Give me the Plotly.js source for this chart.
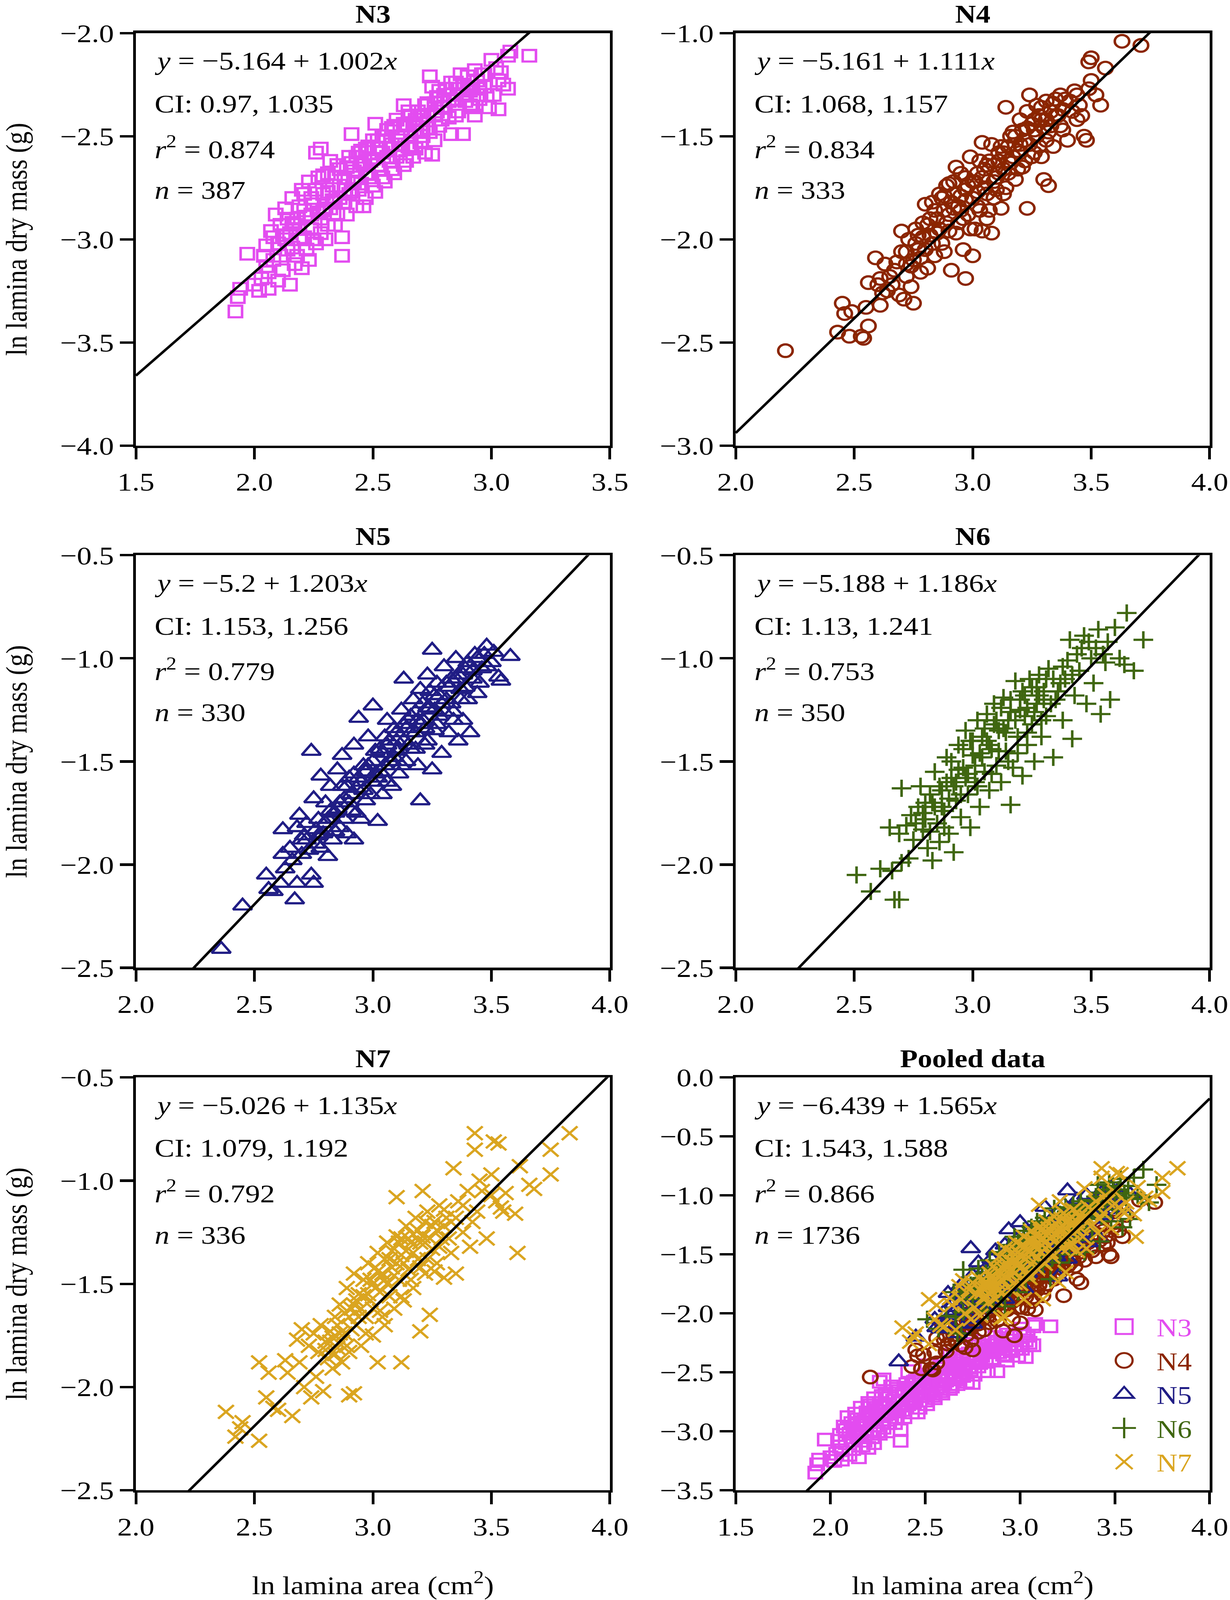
<!DOCTYPE html>
<html><head><meta charset="utf-8">
<script src="https://cdn.plot.ly/plotly-3.0.1.min.js"></script>
<style>html,body{margin:0;padding:0;background:#fff;overflow:hidden;}#wrap{width:3150px;height:4697px;transform-origin:0 0;}#chart{width:3150px;height:4697px;}</style>
</head><body><div id="wrap"><div id="chart"></div></div>
<script>
// ---- data ----
const N3 = [[1.92,-3.35],[1.93,-3.28],[1.94,-3.24],[1.97,-3.07],[2.00,-3.22],[2.02,-3.25],[2.03,-3.19],[2.05,-3.13],[2.05,-3.03],[2.06,-3.24],[2.07,-2.96],[2.08,-3.10],[2.09,-2.88],[2.10,-3.20],[2.10,-3.02],[2.11,-2.93],[2.12,-3.15],[2.13,-2.85],[2.14,-3.05],[2.15,-2.97],[2.15,-3.22],[2.16,-2.80],[2.17,-3.12],[2.18,-2.90],[2.19,-3.00],[2.20,-2.76],[2.20,-3.14],[2.21,-2.86],[2.22,-3.05],[2.23,-2.72],[2.24,-2.95],[2.25,-2.83],[2.26,-2.58],[2.26,-3.02],[2.27,-2.70],[2.28,-2.56],[2.28,-2.90],[2.29,-2.78],[2.30,-3.00],[2.31,-2.68],[2.32,-2.85],[2.33,-2.74],[2.34,-2.93],[2.35,-2.64],[2.36,-2.80],[2.37,-3.08],[2.37,-2.99],[2.38,-2.70],[2.39,-2.88],[2.40,-2.60],[2.41,-2.49],[2.41,-2.77],[2.42,-2.67],[2.43,-2.84],[2.44,-2.58],[2.45,-2.73],[2.46,-2.64],[2.47,-2.80],[2.48,-2.55],[2.49,-2.70],[2.50,-2.61],[2.51,-2.44],[2.51,-2.77],[2.52,-2.52],[2.53,-2.66],[2.54,-2.58],[2.55,-2.72],[2.56,-2.47],[2.57,-2.62],[2.58,-2.54],[2.59,-2.68],[2.60,-2.42],[2.61,-2.57],[2.62,-2.50],[2.63,-2.35],[2.63,-2.64],[2.64,-2.45],[2.65,-2.55],[2.66,-2.40],[2.67,-2.60],[2.68,-2.48],[2.69,-2.38],[2.70,-2.53],[2.71,-2.44],[2.72,-2.58],[2.73,-2.34],[2.74,-2.21],[2.74,-2.48],[2.75,-2.26],[2.75,-2.59],[2.76,-2.40],[2.77,-2.31],[2.78,-2.45],[2.80,-2.36],[2.81,-2.27],[2.82,-2.41],[2.83,-2.49],[2.84,-2.32],[2.85,-2.24],[2.86,-2.38],[2.87,-2.20],[2.88,-2.49],[2.88,-2.30],[2.90,-2.21],[2.91,-2.35],[2.92,-2.27],[2.93,-2.40],[2.94,-2.23],[2.95,-2.32],[2.97,-2.26],[2.99,-2.36],[3.00,-2.13],[3.01,-2.30],[3.03,-2.23],[3.04,-2.19],[3.07,-2.27],[3.08,-2.09],[3.07,-2.11],[3.16,-2.11],
  [2.04,-3.08],[2.06,-3.16],[2.08,-2.99],[2.11,-3.08],[2.12,-2.98],[2.14,-2.90],[2.16,-3.04],[2.17,-2.93],[2.18,-3.08],[2.19,-2.84],[2.21,-2.99],[2.22,-2.89],[2.23,-3.10],[2.24,-2.80],[2.25,-3.00],[2.27,-2.87],[2.28,-2.97],[2.29,-2.69],[2.30,-2.85],[2.31,-2.93],[2.32,-2.62],[2.33,-2.81],[2.34,-2.70],[2.35,-2.88],[2.36,-2.74],[2.38,-2.82],[2.39,-2.65],[2.40,-2.78],[2.42,-2.72],[2.43,-2.60],[2.44,-2.76],[2.45,-2.63],[2.46,-2.84],[2.47,-2.56],[2.48,-2.68],[2.50,-2.74],[2.50,-2.52],[2.52,-2.64],[2.53,-2.56],[2.54,-2.70],[2.55,-2.50],[2.57,-2.56],[2.58,-2.66],[2.59,-2.45],[2.60,-2.60],[2.62,-2.54],[2.64,-2.62],[2.65,-2.38],[2.66,-2.50],[2.67,-2.44],[2.68,-2.56],[2.70,-2.40],[2.71,-2.50],[2.72,-2.35],[2.73,-2.46],[2.76,-2.52],[2.77,-2.38],[2.78,-2.28],[2.79,-2.42],[2.80,-2.30],[2.82,-2.33],[2.83,-2.24],[2.85,-2.40],[2.86,-2.27],[2.89,-2.33],[2.90,-2.26],[2.92,-2.36],[2.93,-2.18],[2.95,-2.27],[2.96,-2.20],[2.98,-2.30],[3.02,-2.17],[3.05,-2.25],[3.03,-2.37],
  [2.13,-3.00],[2.16,-2.92],[2.19,-2.95],[2.21,-2.78],[2.24,-2.88],[2.26,-2.76],[2.29,-2.86],[2.31,-2.77],[2.34,-2.82],[2.36,-2.66],[2.38,-2.76],[2.41,-2.63],[2.43,-2.70],[2.45,-2.57],[2.47,-2.68],[2.49,-2.62],[2.52,-2.58],[2.54,-2.50],[2.56,-2.60],[2.58,-2.46],[2.61,-2.52],[2.63,-2.44],[2.66,-2.56],[2.68,-2.42],[2.70,-2.47],[2.73,-2.40],[2.76,-2.34],[2.79,-2.36],[2.82,-2.30],[2.85,-2.32],[2.88,-2.25],[2.91,-2.28],[2.94,-2.30],[2.97,-2.20]];

const N4 = [[2.21,-2.54],[2.43,-2.45],[2.45,-2.31],[2.46,-2.36],[2.48,-2.47],[2.49,-2.35],[2.53,-2.47],[2.54,-2.48],[2.55,-2.33],[2.56,-2.42],[2.56,-2.21],[2.59,-2.09],[2.60,-2.22],[2.61,-2.32],[2.61,-2.19],[2.63,-2.12],[2.64,-2.25],[2.66,-2.22],[2.67,-2.15],[2.69,-2.27],[2.70,-2.06],[2.70,-1.96],[2.71,-2.29],[2.72,-2.18],[2.73,-2.00],[2.74,-2.23],[2.75,-2.31],[2.75,-2.10],[2.76,-1.95],[2.77,-2.05],[2.78,-2.16],[2.79,-1.92],[2.80,-2.05],[2.80,-1.83],[2.81,-2.14],[2.82,-1.98],[2.83,-1.82],[2.84,-2.08],[2.85,-1.90],[2.86,-1.78],[2.87,-2.02],[2.88,-1.86],[2.89,-1.74],[2.90,-1.96],[2.90,-1.73],[2.91,-2.15],[2.92,-1.85],[2.93,-1.65],[2.94,-1.92],[2.95,-1.79],[2.96,-2.05],[2.97,-1.70],[2.97,-2.19],[2.98,-1.88],[2.99,-1.60],[3.00,-2.08],[3.00,-1.80],[3.01,-1.95],[3.02,-1.68],[3.03,-1.86],[3.04,-1.53],[3.05,-1.75],[3.06,-1.90],[3.07,-1.62],[3.08,-1.97],[3.08,-1.54],[3.09,-1.80],[3.10,-1.70],[3.11,-1.58],[3.12,-1.85],[3.13,-1.66],[3.14,-1.36],[3.14,-1.75],[3.15,-1.55],[3.16,-1.63],[3.17,-1.48],[3.18,-1.71],[3.19,-1.57],[3.20,-1.42],[3.21,-1.65],[3.22,-1.52],[3.23,-1.85],[3.23,-1.38],[3.24,-1.30],[3.25,-1.60],[3.26,-1.47],[3.27,-1.35],[3.28,-1.55],[3.29,-1.42],[3.30,-1.71],[3.31,-1.33],[3.32,-1.74],[3.32,-1.48],[3.33,-1.38],[3.34,-1.55],[3.35,-1.32],[3.37,-1.45],[3.38,-1.37],[3.40,-1.52],[3.41,-1.33],[3.43,-1.28],[3.44,-1.42],[3.45,-1.35],[3.47,-1.50],[3.48,-1.52],[3.49,-1.14],[3.50,-1.23],[3.50,-1.12],[3.49,-1.27],[3.54,-1.35],[3.56,-1.17],[3.63,-1.04],[3.71,-1.06],
  [2.62,-2.26],[2.65,-2.18],[2.68,-2.11],[2.72,-2.06],[2.74,-2.13],[2.77,-1.98],[2.78,-2.09],[2.81,-1.93],[2.83,-2.02],[2.84,-1.86],[2.86,-1.95],[2.87,-1.80],[2.88,-2.06],[2.89,-1.92],[2.91,-1.82],[2.92,-1.72],[2.93,-1.97],[2.94,-1.84],[2.95,-1.68],[2.96,-1.90],[2.97,-1.81],[2.98,-1.74],[2.99,-1.95],[3.01,-1.72],[3.02,-1.84],[3.03,-1.62],[3.04,-1.96],[3.05,-1.66],[3.06,-1.78],[3.07,-1.86],[3.09,-1.64],[3.10,-1.76],[3.11,-1.68],[3.12,-1.55],[3.13,-1.78],[3.15,-1.68],[3.16,-1.50],[3.17,-1.60],[3.18,-1.54],[3.19,-1.66],[3.20,-1.58],[3.21,-1.47],[3.22,-1.62],[3.24,-1.54],[3.25,-1.44],[3.26,-1.58],[3.27,-1.50],[3.28,-1.40],[3.29,-1.60],[3.30,-1.46],[3.31,-1.52],[3.33,-1.45],[3.34,-1.34],[3.36,-1.40],[3.38,-1.47],[3.39,-1.32],[3.42,-1.38],[3.44,-1.30],[3.46,-1.40],[3.52,-1.30],
  [2.72,-2.12],[2.76,-2.02],[2.79,-1.99],[2.82,-1.90],[2.85,-1.97],[2.88,-1.79],[2.90,-1.88],[2.92,-1.78],[2.95,-1.86],[2.97,-1.76],[3.00,-1.72],[3.02,-1.77],[3.04,-1.70],[3.06,-1.64],[3.09,-1.72],[3.11,-1.62],[3.13,-1.58],[3.15,-1.62],[3.18,-1.50],[3.20,-1.54],[3.23,-1.46],[3.26,-1.42],[3.29,-1.36],[3.31,-1.42],[3.35,-1.40],[3.37,-1.30]];

const N5 = [[2.36,-2.41],[2.45,-2.20],[2.55,-2.05],[2.56,-2.12],[2.58,-2.13],[2.61,-2.09],[2.62,-1.95],[2.63,-2.02],[2.62,-1.83],[2.65,-1.92],[2.67,-2.17],[2.68,-2.09],[2.68,-1.82],[2.69,-1.76],[2.70,-1.95],[2.71,-1.86],[2.72,-1.80],[2.74,-1.45],[2.74,-2.05],[2.75,-2.09],[2.75,-1.68],[2.76,-1.90],[2.77,-1.78],[2.78,-1.57],[2.79,-1.85],[2.80,-1.70],[2.81,-1.96],[2.82,-1.62],[2.83,-1.88],[2.84,-1.75],[2.85,-1.54],[2.86,-1.82],[2.87,-1.47],[2.88,-1.68],[2.89,-1.85],[2.90,-1.58],[2.91,-1.74],[2.92,-1.88],[2.92,-1.42],[2.93,-1.63],[2.94,-1.29],[2.95,-1.78],[2.96,-1.52],[2.97,-1.69],[2.98,-1.38],[3.00,-1.23],[3.00,-1.60],[3.01,-1.45],[3.02,-1.79],[3.03,-1.55],[3.04,-1.66],[3.05,-1.38],[3.06,-1.30],[3.07,-1.50],[3.08,-1.62],[3.09,-1.34],[3.10,-1.45],[3.11,-1.56],[3.12,-1.25],[3.13,-1.10],[3.13,-1.40],[3.14,-1.50],[3.15,-1.30],[3.16,-1.44],[3.17,-1.20],[3.18,-1.36],[3.19,-1.52],[3.20,-1.69],[3.20,-1.15],[3.21,-1.30],[3.22,-1.42],[3.23,-1.08],[3.24,-1.24],[3.25,-0.96],[3.25,-1.54],[3.26,-1.35],[3.27,-1.12],[3.28,-1.28],[3.29,-1.46],[3.30,-1.04],[3.31,-1.20],[3.32,-1.36],[3.33,-1.10],[3.34,-1.26],[3.35,-1.00],[3.36,-1.40],[3.37,-1.15],[3.38,-1.30],[3.39,-1.05],[3.40,-1.20],[3.41,-1.36],[3.42,-1.10],[3.43,-0.98],[3.44,-1.17],[3.46,-1.05],[3.47,-0.98],[3.48,-0.94],[3.50,-1.02],[3.53,-1.09],[3.54,-1.11],[3.58,-0.99],
  [2.66,-1.98],[2.70,-1.88],[2.73,-1.93],[2.76,-1.83],[2.78,-1.92],[2.80,-1.80],[2.82,-1.74],[2.84,-1.84],[2.86,-1.70],[2.88,-1.78],[2.89,-1.62],[2.91,-1.66],[2.93,-1.75],[2.94,-1.58],[2.96,-1.64],[2.97,-1.55],[2.99,-1.66],[3.00,-1.50],[3.02,-1.58],[3.03,-1.44],[3.05,-1.52],[3.06,-1.60],[3.07,-1.40],[3.09,-1.48],[3.10,-1.36],[3.11,-1.44],[3.12,-1.52],[3.14,-1.34],[3.15,-1.42],[3.16,-1.28],[3.18,-1.44],[3.19,-1.30],[3.21,-1.22],[3.22,-1.34],[3.23,-1.40],[3.24,-1.16],[3.26,-1.25],[3.27,-1.32],[3.28,-1.18],[3.30,-1.26],[3.31,-1.12],[3.33,-1.22],[3.34,-1.30],[3.36,-1.08],[3.37,-1.20],[3.39,-1.14],[3.40,-1.02],[3.42,-1.06],[3.44,-1.00],[3.45,-1.12],[3.48,-1.04],[3.51,-0.97],
  [2.72,-1.88],[2.77,-1.86],[2.81,-1.78],[2.85,-1.73],[2.87,-1.62],[2.90,-1.70],[2.92,-1.56],[2.95,-1.60],[2.98,-1.52],[3.01,-1.56],[3.04,-1.46],[3.06,-1.42],[3.08,-1.50],[3.10,-1.40],[3.13,-1.32],[3.16,-1.36],[3.18,-1.26],[3.20,-1.32],[3.23,-1.24],[3.26,-1.18],[3.29,-1.22],[3.32,-1.14],[3.35,-1.10],[3.38,-1.08]];

const N6 = [[2.51,-2.05],[2.57,-2.13],[2.61,-2.02],[2.65,-1.82],[2.66,-2.03],[2.67,-2.17],[2.69,-2.17],[2.69,-1.85],[2.70,-1.99],[2.70,-1.63],[2.72,-1.81],[2.73,-1.97],[2.74,-1.76],[2.75,-1.88],[2.77,-1.72],[2.78,-1.62],[2.79,-1.83],[2.80,-1.70],[2.81,-1.92],[2.82,-1.66],[2.83,-1.98],[2.84,-1.55],[2.85,-1.80],[2.86,-1.89],[2.87,-1.64],[2.88,-1.74],[2.89,-1.48],[2.90,-1.85],[2.91,-1.58],[2.92,-1.94],[2.93,-1.69],[2.94,-1.42],[2.95,-1.77],[2.96,-1.53],[2.97,-1.35],[2.98,-1.66],[2.99,-1.82],[3.00,-1.47],[3.01,-1.60],[3.02,-1.30],[3.03,-1.72],[3.04,-1.38],[3.05,-1.55],[3.06,-1.27],[3.07,-1.64],[3.08,-1.44],[3.09,-1.22],[3.10,-1.52],[3.11,-1.35],[3.12,-1.60],[3.13,-1.19],[3.14,-1.45],[3.15,-1.30],[3.16,-1.71],[3.17,-1.53],[3.18,-1.11],[3.19,-1.38],[3.20,-1.25],[3.21,-1.57],[3.22,-1.18],[3.23,-1.42],[3.24,-1.10],[3.25,-1.32],[3.26,-1.50],[3.27,-1.22],[3.28,-1.08],[3.29,-1.38],[3.30,-1.16],[3.31,-1.28],[3.32,-1.05],[3.34,-1.48],[3.35,-1.20],[3.37,-1.12],[3.38,-1.30],[3.40,-1.01],[3.41,-0.91],[3.42,-1.39],[3.43,-1.18],[3.45,-1.06],[3.46,-0.95],[3.47,-0.89],[3.48,-1.22],[3.50,-1.00],[3.51,-1.12],[3.53,-0.86],[3.54,-1.27],[3.55,-0.98],[3.57,-0.92],[3.58,-1.20],[3.60,-0.85],[3.62,-1.00],[3.64,-1.03],[3.65,-0.78],[3.68,-1.06],[3.72,-0.91],
  [2.76,-1.80],[2.79,-1.75],[2.82,-1.84],[2.84,-1.72],[2.86,-1.62],[2.88,-1.82],[2.90,-1.68],[2.91,-1.50],[2.93,-1.60],[2.95,-1.66],[2.96,-1.44],[2.98,-1.56],[2.99,-1.40],[3.01,-1.52],[3.02,-1.62],[3.04,-1.48],[3.05,-1.34],[3.07,-1.42],[3.08,-1.56],[3.09,-1.32],[3.11,-1.45],[3.12,-1.24],[3.14,-1.36],[3.15,-1.50],[3.16,-1.20],[3.18,-1.30],[3.19,-1.46],[3.21,-1.16],[3.22,-1.28],[3.23,-1.36],[3.25,-1.14],[3.26,-1.26],[3.28,-1.18],[3.29,-1.30],[3.31,-1.10],[3.33,-1.22],[3.36,-1.16],[3.39,-1.10],[3.44,-0.98],[3.49,-0.92],[3.52,-0.95],[3.56,-1.02],
  [2.80,-1.78],[2.83,-1.70],[2.87,-1.72],[2.89,-1.60],[2.92,-1.62],[2.94,-1.54],[2.97,-1.58],[3.00,-1.40],[3.03,-1.46],[3.06,-1.40],[3.10,-1.30],[3.13,-1.34],[3.16,-1.26],[3.20,-1.20],[3.23,-1.24],[3.27,-1.14],[3.30,-1.20],[3.34,-1.10],[3.38,-1.04],[3.42,-1.08]];

const N7 = [[2.38,-2.12],[2.42,-2.24],[2.44,-2.20],[2.45,-2.17],[2.52,-2.26],[2.52,-1.88],[2.55,-2.05],[2.56,-1.93],[2.58,-2.10],[2.60,-2.11],[2.63,-1.87],[2.64,-1.93],[2.66,-2.14],[2.68,-1.77],[2.69,-1.88],[2.70,-1.72],[2.71,-2.00],[2.73,-1.80],[2.74,-2.05],[2.75,-1.74],[2.76,-1.95],[2.77,-1.83],[2.78,-1.70],[2.79,-2.02],[2.80,-1.78],[2.81,-1.86],[2.82,-1.73],[2.83,-1.91],[2.84,-1.66],[2.85,-1.81],[2.86,-1.60],[2.87,-1.88],[2.88,-1.74],[2.89,-1.52],[2.90,-2.04],[2.90,-1.83],[2.91,-1.62],[2.92,-2.03],[2.92,-1.45],[2.93,-1.70],[2.94,-1.55],[2.95,-1.80],[2.96,-1.48],[2.97,-1.66],[2.98,-1.40],[2.99,-1.58],[3.00,-1.75],[3.01,-1.52],[3.02,-1.88],[3.02,-1.35],[3.03,-1.63],[3.04,-1.45],[3.05,-1.70],[3.06,-1.30],[3.07,-1.56],[3.08,-1.42],[3.09,-1.62],[3.10,-1.08],[3.10,-1.27],[3.11,-1.48],[3.12,-1.88],[3.12,-1.36],[3.13,-1.58],[3.14,-1.22],[3.15,-1.43],[3.16,-1.30],[3.17,-1.52],[3.18,-1.18],[3.19,-1.38],[3.20,-1.73],[3.21,-1.05],[3.21,-1.27],[3.22,-1.45],[3.23,-1.15],[3.24,-1.65],[3.25,-1.33],[3.26,-1.20],[3.27,-1.40],[3.28,-1.12],[3.29,-1.28],[3.30,-1.47],[3.31,-1.18],[3.33,-1.35],[3.34,-0.94],[3.35,-1.45],[3.36,-1.10],[3.38,-1.25],[3.40,-1.05],[3.41,-1.32],[3.43,-0.77],[3.43,-0.85],[3.44,-1.15],[3.46,-1.05],[3.48,-1.28],[3.50,-0.97],[3.51,-0.81],[3.53,-0.82],[3.52,-1.10],[3.54,-1.13],[3.56,-1.06],[3.60,-1.16],[3.61,-1.35],[3.62,-0.93],[3.66,-1.02],[3.68,-1.04],[3.75,-0.85],[3.75,-0.97],[3.83,-0.77],
  [2.82,-1.78],[2.84,-1.84],[2.86,-1.74],[2.88,-1.64],[2.89,-1.80],[2.91,-1.72],[2.93,-1.58],[2.94,-1.66],[2.96,-1.56],[2.97,-1.74],[2.99,-1.48],[3.00,-1.62],[3.01,-1.42],[3.03,-1.54],[3.04,-1.66],[3.05,-1.38],[3.06,-1.50],[3.08,-1.34],[3.09,-1.46],[3.11,-1.30],[3.12,-1.56],[3.13,-1.40],[3.15,-1.28],[3.16,-1.48],[3.17,-1.35],[3.19,-1.24],[3.20,-1.42],[3.22,-1.30],[3.23,-1.38],[3.25,-1.22],[3.26,-1.44],[3.28,-1.32],[3.30,-1.22],[3.32,-1.28],[3.35,-1.18],[3.38,-1.12],[3.42,-1.20],[3.45,-1.00],[3.50,-1.07],[3.55,-1.15],
  [2.80,-1.82],[2.83,-1.76],[2.85,-1.70],[2.87,-1.78],[2.90,-1.66],[2.92,-1.60],[2.95,-1.62],[2.98,-1.55],[3.00,-1.50],[3.02,-1.44],[3.05,-1.48],[3.07,-1.38],[3.10,-1.40],[3.12,-1.28],[3.14,-1.34],[3.17,-1.26],[3.20,-1.30],[3.22,-1.20],[3.24,-1.28],[3.27,-1.24],[3.30,-1.14],[3.33,-1.20]];

const seriesNames = ['N3','N4','N5','N6','N7'];
const panelTitles = ['N3','N4','N5','N6','N7','Pooled data'];
const intercepts = [-5.164, -5.161, -5.2, -5.188, -5.026, -6.439];
const slopes     = [1.002, 1.111, 1.203, 1.186, 1.135, 1.565];
const ciLow      = ['0.97', '1.068', '1.153', '1.13', '1.079', '1.543'];
const ciHigh     = ['1.035', '1.157', '1.256', '1.241', '1.192', '1.588'];
const rSquared   = ['0.874', '0.834', '0.779', '0.753', '0.792', '0.866'];
const nObs       = ['387', '333', '330', '350', '336', '1736'];
const xRanges = [[1.5,3.5],[2,4],[2,4],[2,4],[2,4],[1.5,4]];
const yRanges = [[-4,-2],[-3,-1],[-2.5,-0.5],[-2.5,-0.5],[-2.5,-0.5],[-3.5,0]];

// ---- styles ----
const seriesData = [N3, N4, N5, N6, N7];
const colors  = ['#E34CF0', '#8B2500', '#201D85', '#3F6610', '#DAA520'];
const symbols = ['square-open', 'circle-open', 'triangle-up-open', 'cross-thin-open', 'x-thin-open'];
const sizes   = [34, 37, 42, 36, 40];
const FONT = 'Liberation Serif';

const xDomains = [[0.11048, 0.49587], [0.59810, 0.98349]];
const yDomains = [[0.72152, 0.97935], [0.39515, 0.65297], [0.06855, 0.32659]];

// fit the full figure into the actual viewport height if it is shorter
(function () {
  const H = window.innerHeight;
  if (H > 1000 && H < 4690) {
    document.getElementById('wrap').style.transform = 'scaleY(' + (H / 4697) + ')';
  }
})();

function axisBase(domain, range, anchor) {
  return {
    domain: domain, range: range, anchor: anchor,
    showline: true, mirror: true, linewidth: 7, linecolor: '#000',
    ticks: 'outside', ticklen: 34, tickwidth: 7, tickcolor: '#000',
    tick0: 0, dtick: 0.5, tickformat: '.1f',
    tickfont: {family: FONT, size: 76, color: '#000'},
    showgrid: false, zeroline: false, fixedrange: true
  };
}

const layout = {
  width: 3150, height: 4697,
  margin: {l: 0, r: 0, t: 0, b: 0},
  paper_bgcolor: '#fff', plot_bgcolor: '#fff',
  font: {family: FONT, size: 76, color: '#000'},
  showlegend: true,
  legend: {
    x: 0.8876, xanchor: 'left', y: 0.1825, yanchor: 'top',
    bgcolor: 'rgba(0,0,0,0)', borderwidth: 0,
    font: {family: FONT, size: 74, color: '#000'},
    itemwidth: 156, tracegroupgap: 0
  },
  annotations: []
};

const traces = [];
const lineYs = [0.933, 0.829, 0.723, 0.619];

for (let p = 0; p < 6; p++) {
  const col = p % 2, row = Math.floor(p / 2);
  const suffix = p === 0 ? '' : String(p + 1);
  const xa = 'x' + suffix, ya = 'y' + suffix;
  layout['xaxis' + suffix] = axisBase(xDomains[col], xRanges[p], ya);
  layout['yaxis' + suffix] = axisBase(yDomains[row], yRanges[p], xa);

  const members = p < 5 ? [p] : [0, 1, 2, 3, 4];
  members.forEach(function (s) {
    traces.push({
      type: 'scatter', mode: 'markers', xaxis: xa, yaxis: ya,
      x: seriesData[s].map(function (d) { return d[0]; }),
      y: seriesData[s].map(function (d) { return d[1]; }),
      name: '<span style="color:' + colors[s] + '">' + seriesNames[s] + '</span>',
      showlegend: p === 5,
      marker: {symbol: symbols[s], size: sizes[s], color: colors[s],
               line: {width: 6.5, color: colors[s]}},
      hoverinfo: 'skip'
    });
  });

  // regression line from the printed equation
  const lx = xRanges[p];
  traces.push({
    type: 'scatter', mode: 'lines', xaxis: xa, yaxis: ya,
    x: lx, y: lx.map(function (v) { return intercepts[p] + slopes[p] * v; }),
    line: {color: '#000', width: 7}, showlegend: false, hoverinfo: 'skip'
  });

  const xr = xa + ' domain', yr = ya + ' domain';
  const texts = [
    '<i>y</i> = \u2212' + Math.abs(intercepts[p]) + ' + ' + slopes[p] + '<i>x</i>',
    'CI: ' + ciLow[p] + ', ' + ciHigh[p],
    '<i>r</i><sup>2</sup> = ' + rSquared[p],
    '<i>n</i> = ' + nObs[p]
  ];
  texts.forEach(function (t, i) {
    layout.annotations.push({
      xref: xr, yref: yr, x: 0.038, y: lineYs[i], xanchor: 'left', yanchor: 'middle',
      text: t, showarrow: false, font: {family: FONT, size: 76, color: '#000'}
    });
  });
  layout.annotations.push({
    xref: xr, yref: yr, x: 0.5, y: 1, xanchor: 'center', yanchor: 'bottom', yshift: 12,
    text: '<b>' + panelTitles[p] + '</b>', showarrow: false,
    font: {family: FONT, size: 74, color: '#000'}
  });
}

const yTitle = {text: 'ln lamina dry mass (g)', font: {family: FONT, size: 76, color: '#000'}, standoff: 64};
layout.yaxis.title = JSON.parse(JSON.stringify(yTitle));
layout.yaxis3.title = JSON.parse(JSON.stringify(yTitle));
layout.yaxis5.title = JSON.parse(JSON.stringify(yTitle));
const xTitle = {text: 'ln lamina area (cm<sup>2</sup>)', font: {family: FONT, size: 76, color: '#000'}, standoff: 112};
layout.xaxis5.title = JSON.parse(JSON.stringify(xTitle));
layout.xaxis6.title = JSON.parse(JSON.stringify(xTitle));

Plotly.newPlot('chart', traces, layout, {displayModeBar: false, responsive: false}).then(function (gd) {
  gd.querySelectorAll('.legend .legendpoints path.scatterpts').forEach(function (el) {
    const t = el.getAttribute('transform') || '';
    el.setAttribute('transform', t + ' scale(2.7)');
    el.style.strokeWidth = '2.1px';
  });
  // drop empty placeholder text nodes (untitled axes etc.)
  gd.querySelectorAll('text').forEach(function (t) {
    if (!t.textContent || !t.textContent.trim()) t.remove();
  });
});
</script></body></html>
